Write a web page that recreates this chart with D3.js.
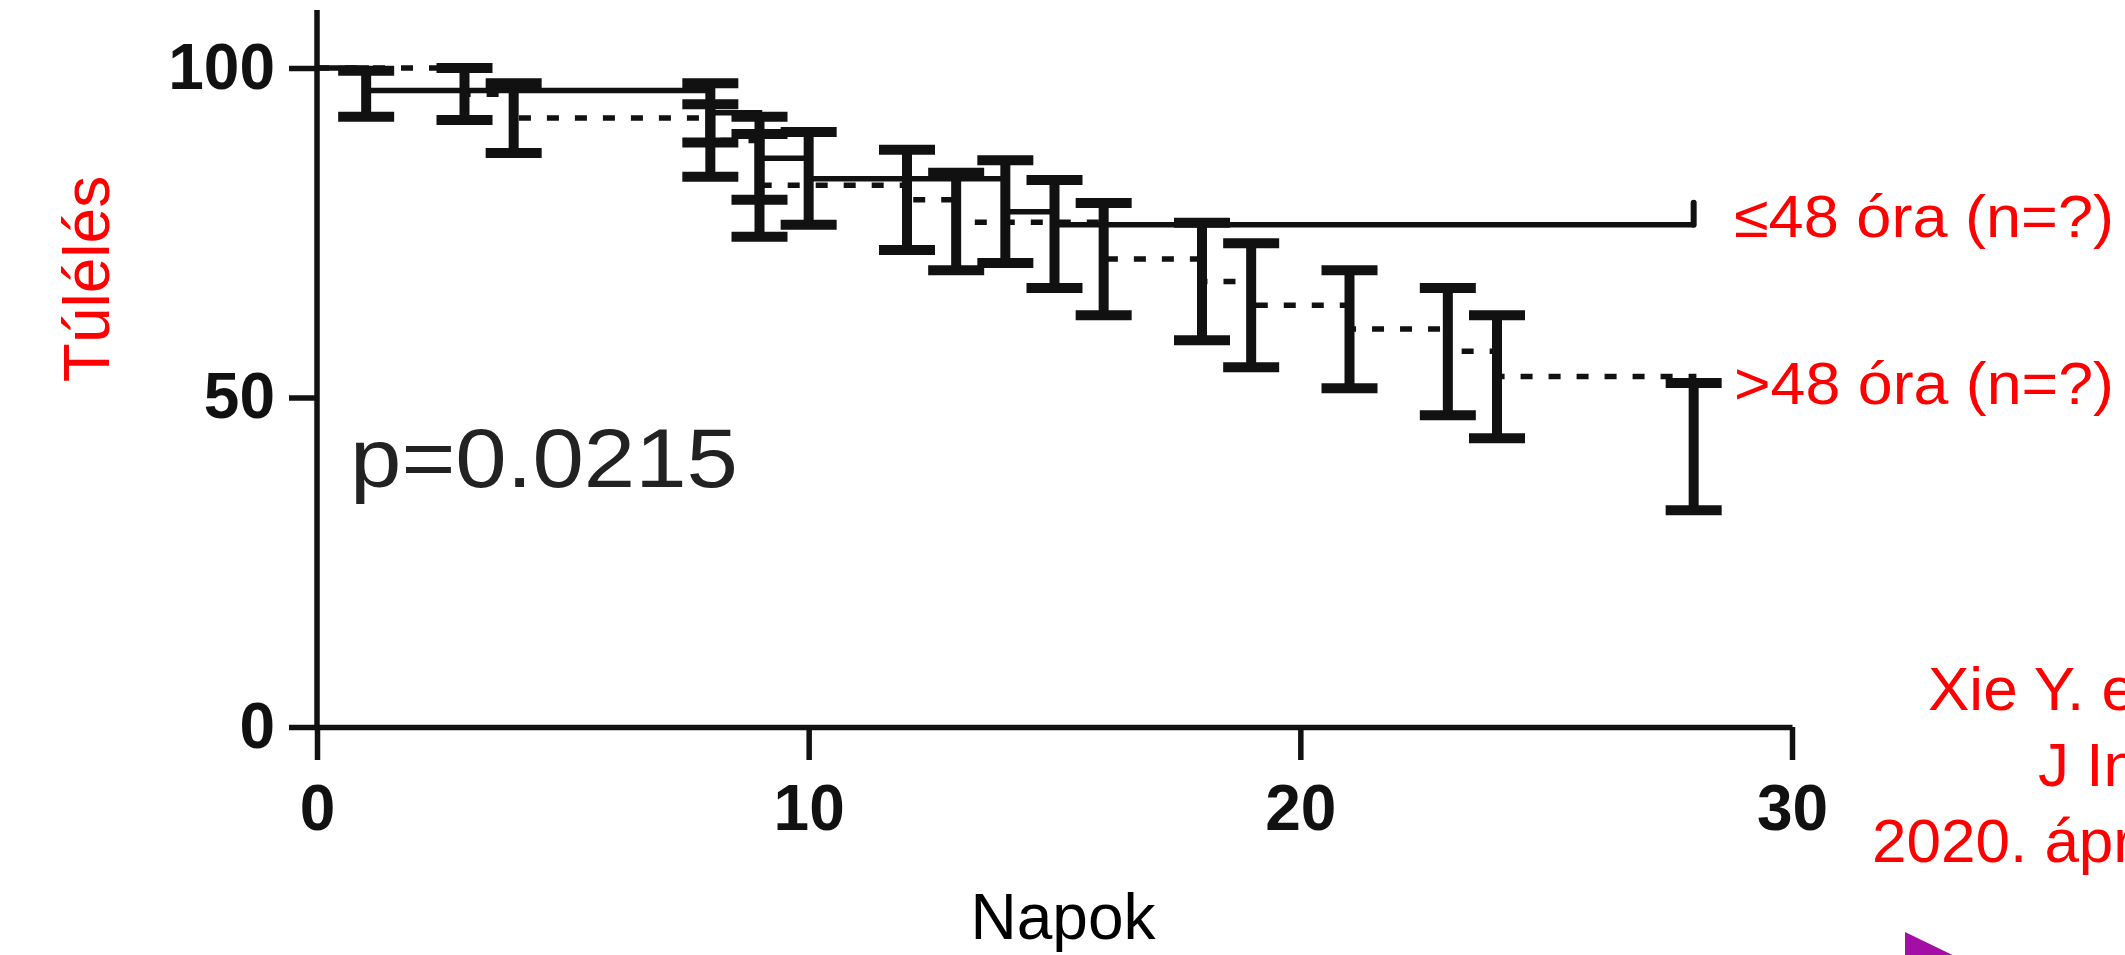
<!DOCTYPE html>
<html>
<head>
<meta charset="utf-8">
<script src="https://cdn.jsdelivr.net/npm/d3@7"></script>
<style>
    body { margin: 0; background: #fff; }
    text { font-family: "Liberation Sans", Arial, sans-serif; }
</style>
</head>
<body>
<svg></svg>
<script>
const width = 2125;
const height = 955;

// <=48 ora group (solid line): event day, survival %, error bar ends
const shortDays = [1, 8, 9, 10, 14, 15];
const shortSurv = [96.6, 93.2, 86.3, 83.2, 78.2, 76.2];
const shortLo   = [92.6, 88.7, 80.0, 76.2, 70.4, 66.6];
const shortHi   = [99.6, 97.7, 92.6, 90.3, 86.0, 83.0];
const shortLastDay = 28;

// >48 ora group (dashed line)
const longDays = [3, 4, 8, 9, 12, 13, 16, 18, 19, 21, 23, 24, 28];
const longSurv = [96.0, 92.4, 89.0, 82.2, 80.0, 76.6, 71.0, 67.6, 64.0, 60.4, 57.0, 53.2, 42.6];
const longLo   = [92.1, 87.1, 83.5, 74.4, 72.4, 69.3, 62.5, 58.7, 54.6, 51.4, 47.3, 43.8, 32.9];
const longHi   = [100, 97.7, 94.5, 90.0, 87.6, 84.1, 79.5, 76.5, 73.4, 69.3, 66.6, 62.5, 52.2];

const xTicks = [0, 10, 20, 30];
const yTicks = [0, 50, 100];

const pText = 'p=0.0215';
const yTitle = 'Túlélés';
const xTitle = 'Napok';
const shortLabel = '≤48 óra (n=?)';
const longLabel = '>48 óra (n=?)';
const citation = ['Xie Y. et al.', 'J Infect', '2020. április'];

const ink = '#111';
const red = '#ff0000';

const svg = d3.select('svg')
    .attr('width', width)
    .attr('height', height);

svg.append('rect')
    .attr('width', width)
    .attr('height', height)
    .attr('fill', '#fff');

const x = d3.scaleLinear().domain([0, 30]).range([317, 1792]);
const y = d3.scaleLinear().domain([0, 100]).range([727, 68]);

// axes
const xAxis = svg.append('g')
    .attr('transform', `translate(0,${y(0)})`)
    .call(d3.axisBottom(x).tickValues(xTicks).tickSize(33).tickSizeOuter(0).tickPadding(25));

const yAxis = svg.append('g')
    .attr('transform', `translate(${x(0)},0)`)
    .call(d3.axisLeft(y).tickValues(yTicks).tickSize(28).tickSizeOuter(0).tickPadding(14));

yAxis.select('.domain').attr('d', `M0,${y(0)}V10`);

[xAxis, yAxis].forEach(a => {
    a.select('.domain').attr('stroke', ink).attr('stroke-width', 5.5);
    a.selectAll('.tick line').attr('stroke', ink).attr('stroke-width', 5.5);
    a.selectAll('.tick text')
        .attr('fill', ink)
        .style('font-size', '64px')
        .style('font-weight', 'bold')
        .style('font-family', '"Liberation Sans", Arial, sans-serif');
});

// survival curves
const stepLine = d3.line()
    .x(d => x(d[0]))
    .y(d => y(d[1]))
    .curve(d3.curveStepAfter);

const shortPts = [[0, 100]].concat(shortDays.map((d, i) => [d, shortSurv[i]]));
shortPts.push([shortLastDay, shortSurv[shortSurv.length - 1]]);
const longPts = [[0, 100]].concat(longDays.map((d, i) => [d, longSurv[i]]));

svg.append('path')
    .attr('d', stepLine(shortPts))
    .attr('fill', 'none')
    .attr('stroke', ink)
    .attr('stroke-width', 5.5);

svg.append('path')
    .attr('d', stepLine(longPts))
    .attr('fill', 'none')
    .attr('stroke', ink)
    .attr('stroke-width', 5.5)
    .attr('stroke-dasharray', '12,16');

// censor tick at the end of the solid curve
svg.append('line')
    .attr('x1', x(shortLastDay))
    .attr('x2', x(shortLastDay))
    .attr('y1', y(shortSurv[shortSurv.length - 1]))
    .attr('y2', y(shortSurv[shortSurv.length - 1]) - 22)
    .attr('stroke', ink)
    .attr('stroke-width', 6)
    .attr('stroke-linecap', 'round');

// error bars
const bars = shortDays.map((d, i) => ({day: d, lo: shortLo[i], hi: shortHi[i]}))
    .concat(longDays.map((d, i) => ({day: d, lo: longLo[i], hi: longHi[i]})));

const capW = 28;
const eb = svg.append('g').selectAll('g')
    .data(bars).enter()
    .append('g');

eb.append('line')
    .attr('x1', d => x(d.day))
    .attr('x2', d => x(d.day))
    .attr('y1', d => y(d.lo))
    .attr('y2', d => y(d.hi))
    .attr('stroke', ink)
    .attr('stroke-width', 10);

eb.selectAll('line.cap')
    .data(d => [{day: d.day, v: d.lo}, {day: d.day, v: d.hi}])
    .enter().append('line')
    .attr('class', 'cap')
    .attr('x1', d => x(d.day) - capW)
    .attr('x2', d => x(d.day) + capW)
    .attr('y1', d => y(d.v))
    .attr('y2', d => y(d.v))
    .attr('stroke', ink)
    .attr('stroke-width', 10);

// texts
svg.append('text')
    .attr('x', 350)
    .attr('y', 487)
    .attr('fill', '#222')
    .attr('textLength', 388)
    .attr('lengthAdjust', 'spacingAndGlyphs')
    .style('font-size', '83px')
    .text(pText);

svg.append('text')
    .attr('transform', 'translate(109,279) rotate(-90)')
    .attr('text-anchor', 'middle')
    .attr('fill', red)
    .style('font-size', '64px')
    .text(yTitle);

svg.append('text')
    .attr('x', 1063)
    .attr('y', 939)
    .attr('text-anchor', 'middle')
    .attr('fill', '#000')
    .style('font-size', '64px')
    .text(xTitle);

svg.append('text')
    .attr('x', 1734)
    .attr('y', 237)
    .attr('fill', red)
    .attr('textLength', 380)
    .attr('lengthAdjust', 'spacingAndGlyphs')
    .style('font-size', '59px')
    .text(shortLabel);

svg.append('text')
    .attr('x', 1734)
    .attr('y', 404)
    .attr('fill', red)
    .attr('textLength', 380)
    .attr('lengthAdjust', 'spacingAndGlyphs')
    .style('font-size', '59px')
    .text(longLabel);

const citeX = [1928, 2038, 1872];
svg.append('g').selectAll('text')
    .data(citation).enter()
    .append('text')
    .attr('x', (d, i) => citeX[i])
    .attr('y', (d, i) => 710 + i * 76)
    .attr('fill', red)
    .style('font-size', '62px')
    .text(d => d);

// slide-navigation arrow peeking in at the bottom
svg.append('path')
    .attr('d', 'M1905,932 L2000,978 L1905,1024 Z')
    .attr('fill', '#a30fa5');
</script>
</body>
</html>
